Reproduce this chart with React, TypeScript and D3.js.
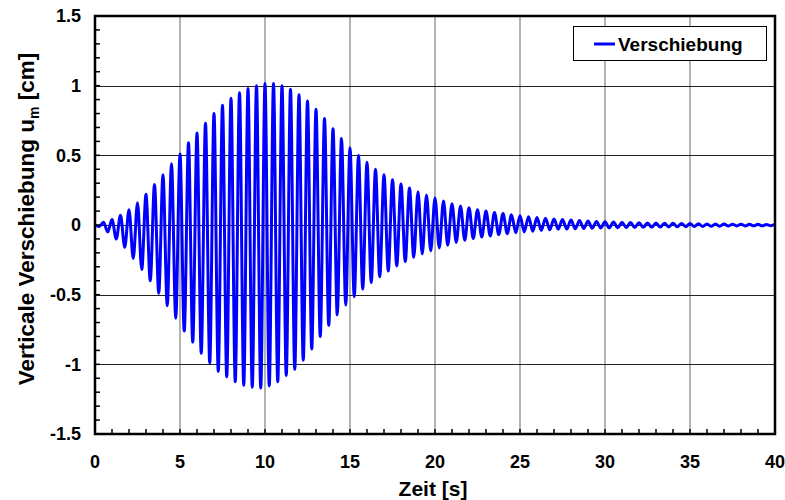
import React, { useEffect, useRef } from 'react';
import * as d3 from 'd3';

const width = 785;
const height = 500;
const plot = { left: 95, right: 775, top: 16, bottom: 434 };

const xTicks = [0, 5, 10, 15, 20, 25, 30, 35, 40];
const yTicks = [-1.5, -1, -0.5, 0, 0.5, 1, 1.5];

// oscillation period [s]; lower peaks at 0.25 + 0.5k, upper peaks at 0.5 + 0.5k
const period = 0.5;

// positive extrema, t = 0.5, 1.0, ... 40.0
const upperPeaks = [
  0.02, 0.04, 0.07, 0.11, 0.16, 0.22, 0.29, 0.36, 0.44, 0.51,
  0.59, 0.66, 0.73, 0.8, 0.86, 0.91, 0.95, 0.98, 1.0, 1.015,
  1.015, 1.0, 0.975, 0.935, 0.89, 0.83, 0.765, 0.69, 0.62, 0.555,
  0.5, 0.45, 0.4, 0.36, 0.325, 0.295, 0.265, 0.238, 0.215, 0.193,
  0.173, 0.153, 0.137, 0.124, 0.11, 0.1, 0.09, 0.082, 0.073, 0.067,
  0.06, 0.053, 0.048, 0.043, 0.039, 0.035, 0.032, 0.029, 0.026, 0.024,
  0.022, 0.02, 0.018, 0.017, 0.015, 0.014, 0.013, 0.012, 0.011, 0.01,
  0.009, 0.008, 0.008, 0.007, 0.006, 0.006, 0.005, 0.005, 0.004, 0.004,
];

// negative extrema, t = 0.25, 0.75, ... 39.75
const lowerPeaks = [
  -0.01, -0.05, -0.1, -0.16, -0.24, -0.32, -0.4, -0.49, -0.58, -0.67,
  -0.76, -0.84, -0.92, -0.99, -1.05, -1.09, -1.125, -1.15, -1.165, -1.17,
  -1.155, -1.125, -1.08, -1.035, -0.97, -0.89, -0.8, -0.72, -0.645, -0.575,
  -0.515, -0.46, -0.413, -0.372, -0.33, -0.294, -0.262, -0.232, -0.206, -0.185,
  -0.165, -0.145, -0.125, -0.11, -0.097, -0.087, -0.079, -0.069, -0.062, -0.055,
  -0.05, -0.044, -0.039, -0.034, -0.031, -0.029, -0.027, -0.025, -0.023, -0.022,
  -0.021, -0.02, -0.019, -0.018, -0.017, -0.016, -0.015, -0.014, -0.013, -0.012,
  -0.011, -0.01, -0.009, -0.009, -0.008, -0.007, -0.007, -0.006, -0.006, -0.005,
];

const font = "'Liberation Sans', Arial, sans-serif";

const App = () => {
  const svgRef = useRef<SVGSVGElement | null>(null);

  useEffect(() => {
    const svg = d3.select(svgRef.current);
    svg.selectAll('*').remove();

    const x = d3.scaleLinear().domain([0, 40]).range([plot.left, plot.right]);
    const y = d3.scaleLinear().domain([-1.5, 1.5]).range([plot.bottom, plot.top]);

    // build series from the extrema
    const points: [number, number][] = [[0, 0]];
    lowerPeaks.forEach((lo, i) => {
      points.push([period / 2 + i * period, lo]);
      if (i < upperPeaks.length) points.push([period + i * period, upperPeaks[i]]);
    });

    svg.append('rect')
      .attr('width', width).attr('height', height).attr('fill', 'white');

    // grid
    const grid = svg.append('g');
    grid.selectAll('line.gx')
      .data(xTicks.slice(1, -1))
      .join('line')
      .attr('x1', d => x(d)).attr('x2', d => x(d))
      .attr('y1', plot.top).attr('y2', plot.bottom)
      .attr('stroke', '#808080').attr('stroke-width', 1.2);
    grid.selectAll('line.gy')
      .data(yTicks.slice(1, -1))
      .join('line')
      .attr('x1', plot.left).attr('x2', plot.right)
      .attr('y1', d => Math.round(y(d)) + 0.5).attr('y2', d => Math.round(y(d)) + 0.5)
      .attr('stroke', '#222').attr('stroke-width', 1);

    // series
    const line = d3.line<[number, number]>()
      .x(d => x(d[0]))
      .y(d => y(d[1]))
      .curve(d3.curveMonotoneX);

    svg.append('path')
      .datum(points)
      .attr('d', line)
      .attr('fill', 'none')
      .attr('stroke', '#0000ff')
      .attr('stroke-width', 3)
      .attr('stroke-linejoin', 'round');

    // minor ticks (inward)
    const ticks = svg.append('g').attr('stroke', 'black').attr('stroke-width', 1.5);
    ticks.selectAll('line.tx')
      .data(d3.range(1, 40))
      .join('line')
      .attr('x1', d => x(d)).attr('x2', d => x(d))
      .attr('y1', plot.bottom).attr('y2', plot.bottom - 5);
    ticks.selectAll('line.ty')
      .data(d3.range(-14, 15).map(d => d / 10))
      .join('line')
      .attr('x1', plot.left).attr('x2', plot.left + 5)
      .attr('y1', d => y(d)).attr('y2', d => y(d));

    // frame
    svg.append('rect')
      .attr('x', plot.left).attr('y', plot.top)
      .attr('width', plot.right - plot.left).attr('height', plot.bottom - plot.top)
      .attr('fill', 'none').attr('stroke', 'black').attr('stroke-width', 2.5);

    // tick labels
    svg.append('g').selectAll('text')
      .data(xTicks)
      .join('text')
      .attr('x', d => x(d)).attr('y', 468)
      .attr('text-anchor', 'middle')
      .style('font-family', font).style('font-weight', 'bold').style('font-size', '18px')
      .text(d => d);
    svg.append('g').selectAll('text')
      .data(yTicks)
      .join('text')
      .attr('x', 81).attr('y', d => y(d)).attr('dy', '0.35em')
      .attr('text-anchor', 'end')
      .style('font-family', font).style('font-weight', 'bold').style('font-size', '18px')
      .text(d => d);

    // axis titles
    svg.append('text')
      .attr('x', 433).attr('y', 496)
      .attr('text-anchor', 'middle')
      .style('font-family', font).style('font-weight', 'bold').style('font-size', '21px')
      .text('Zeit [s]');

    const yt = svg.append('text')
      .attr('transform', 'translate(34,219) rotate(-90)')
      .attr('text-anchor', 'middle')
      .style('font-family', font).style('font-weight', 'bold').style('font-size', '22.5px');
    yt.append('tspan').text('Verticale Verschiebung u');
    yt.append('tspan').attr('dy', 5).style('font-size', '14px').text('m');
    yt.append('tspan').attr('dy', -5).text(' [cm]');

    // legend
    const lg = svg.append('g');
    lg.append('rect')
      .attr('x', 573.5).attr('y', 26.5).attr('width', 193).attr('height', 34)
      .attr('fill', 'white').attr('stroke', 'black').attr('stroke-width', 1);
    lg.append('line')
      .attr('x1', 594).attr('x2', 615).attr('y1', 44).attr('y2', 44)
      .attr('stroke', '#0000ff').attr('stroke-width', 3);
    lg.append('text')
      .attr('x', 618).attr('y', 51)
      .style('font-family', font).style('font-weight', 'bold').style('font-size', '19px')
      .text('Verschiebung');
  }, []);

  return (
    <svg
      ref={svgRef}
      width={width}
      height={height}
      style={{ position: 'absolute', left: 0, top: 0, display: 'block' }}
    />
  );
};

export default App;
